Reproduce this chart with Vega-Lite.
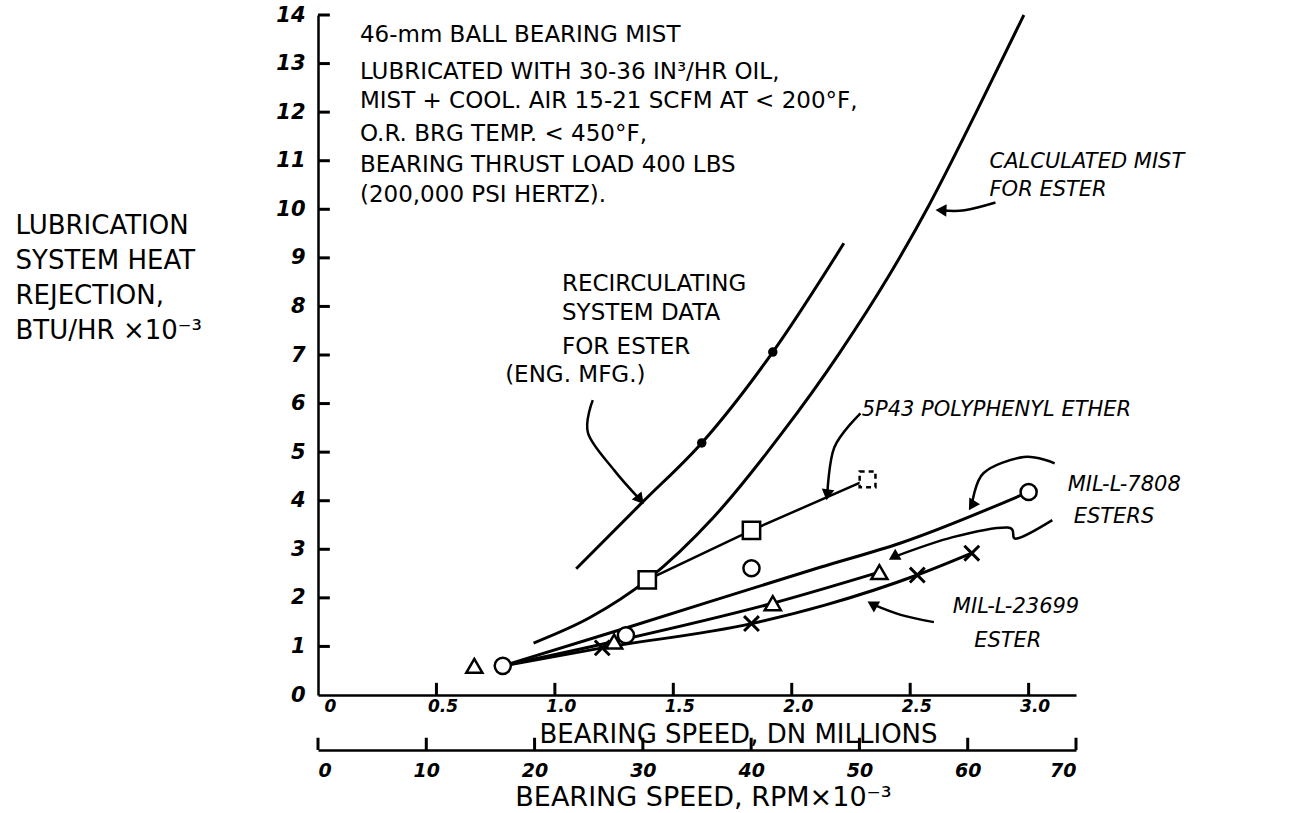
{
  "$schema": "https://vega.github.io/schema/vega-lite/v6.json",
  "width": 758,
  "height": 680,
  "autosize": {"type": "none"},
  "padding": {"left": 318, "top": 15, "right": 218, "bottom": 118},
  "background": "white",
  "config": {"view": {"stroke": null}, "font": "DejaVu Sans"},
  "datasets": {
    "curves": [
      {"s": "recirc", "x": 1.09, "y": 2.6}, {"s": "recirc", "x": 1.37, "y": 3.97}, {"s": "recirc", "x": 1.62, "y": 5.19}, {"s": "recirc", "x": 1.92, "y": 7.06}, {"s": "recirc", "x": 2.22, "y": 9.3},
      {"s": "calc", "x": 0.91, "y": 1.07}, {"s": "calc", "x": 1.15, "y": 1.6}, {"s": "calc", "x": 1.39, "y": 2.37}, {"s": "calc", "x": 1.67, "y": 3.66}, {"s": "calc", "x": 1.96, "y": 5.4}, {"s": "calc", "x": 2.2, "y": 7.03}, {"s": "calc", "x": 2.41, "y": 8.63}, {"s": "calc", "x": 2.58, "y": 10.09}, {"s": "calc", "x": 2.78, "y": 12.01}, {"s": "calc", "x": 2.98, "y": 14.0},
      {"s": "c7808", "x": 0.78, "y": 0.6}, {"s": "c7808", "x": 1.3, "y": 1.38}, {"s": "c7808", "x": 2.12, "y": 2.63}, {"s": "c7808", "x": 2.46, "y": 3.13}, {"s": "c7808", "x": 3.0, "y": 4.18},
      {"s": "t7808", "x": 0.78, "y": 0.6}, {"s": "t7808", "x": 1.25, "y": 1.1}, {"s": "t7808", "x": 1.92, "y": 1.89}, {"s": "t7808", "x": 2.37, "y": 2.53},
      {"s": "x23699", "x": 0.78, "y": 0.6}, {"s": "x23699", "x": 1.2, "y": 0.97}, {"s": "x23699", "x": 1.83, "y": 1.47}, {"s": "x23699", "x": 2.14, "y": 1.85}, {"s": "x23699", "x": 2.53, "y": 2.47}, {"s": "x23699", "x": 2.76, "y": 2.92}
    ],
    "poly": [
      {"s": "poly", "x": 1.39, "y": 2.37}, {"s": "poly", "x": 1.83, "y": 3.39}, {"s": "poly", "x": 2.32, "y": 4.44}
    ],
    "points": [
      {"m": "dot", "x": 1.62, "y": 5.19}, {"m": "dot", "x": 1.92, "y": 7.06},
      {"m": "circle", "x": 0.78, "y": 0.6}, {"m": "circle", "x": 1.3, "y": 1.23}, {"m": "circle", "x": 1.83, "y": 2.61}, {"m": "circle", "x": 3.0, "y": 4.18},
      {"m": "square", "x": 1.39, "y": 2.37}, {"m": "square", "x": 1.83, "y": 3.39},
      {"m": "squareDash", "x": 2.32, "y": 4.44},
      {"m": "triangle", "x": 0.66, "y": 0.6}, {"m": "triangle", "x": 1.25, "y": 1.1}, {"m": "triangle", "x": 1.92, "y": 1.89}, {"m": "triangle", "x": 2.37, "y": 2.53},
      {"m": "x", "x": 1.2, "y": 0.97}, {"m": "x", "x": 1.83, "y": 1.47}, {"m": "x", "x": 2.53, "y": 2.47}, {"m": "x", "x": 2.76, "y": 2.92}
    ],
    "arrows": [
      {"a": "recirc", "i": 1, "x": 1.16, "y": 6.07}, {"a": "recirc", "i": 2, "x": 1.14, "y": 5.39}, {"a": "recirc", "i": 3, "x": 1.25, "y": 4.63}, {"a": "recirc", "i": 4, "x": 1.36, "y": 4.02},
      {"a": "poly", "i": 1, "x": 2.29, "y": 5.8}, {"a": "poly", "i": 2, "x": 2.18, "y": 5.1}, {"a": "poly", "i": 3, "x": 2.15, "y": 4.12},
      {"a": "calc", "i": 1, "x": 2.86, "y": 10.14}, {"a": "calc", "i": 2, "x": 2.73, "y": 9.98}, {"a": "calc", "i": 3, "x": 2.63, "y": 9.98},
      {"a": "m7808a", "i": 1, "x": 3.11, "y": 4.77}, {"a": "m7808a", "i": 2, "x": 2.98, "y": 4.9}, {"a": "m7808a", "i": 3, "x": 2.81, "y": 4.57}, {"a": "m7808a", "i": 4, "x": 2.76, "y": 3.9},
      {"a": "m7808b", "i": 1, "x": 3.1, "y": 3.6}, {"a": "m7808b", "i": 2, "x": 2.95, "y": 3.22}, {"a": "m7808b", "i": 3, "x": 2.91, "y": 3.45}, {"a": "m7808b", "i": 4, "x": 2.68, "y": 3.25}, {"a": "m7808b", "i": 5, "x": 2.43, "y": 2.84},
      {"a": "m23699", "i": 1, "x": 2.6, "y": 1.5}, {"a": "m23699", "i": 2, "x": 2.46, "y": 1.65}, {"a": "m23699", "i": 3, "x": 2.34, "y": 1.87}
    ],
    "heads": [
      {"a": "recirc", "x": 1.36, "y": 4.02},
      {"a": "poly", "x": 2.15, "y": 4.12},
      {"a": "calc", "x": 2.63, "y": 9.98},
      {"a": "m7808a", "x": 2.76, "y": 3.9},
      {"a": "m7808b", "x": 2.43, "y": 2.84},
      {"a": "m23699", "x": 2.34, "y": 1.87}
    ],
    "xticks": [
      {"x": 0.5, "y": 0, "y2": 0.25}, {"x": 1.0, "y": 0, "y2": 0.25}, {"x": 1.5, "y": 0, "y2": 0.25}, {"x": 2.0, "y": 0, "y2": 0.25}, {"x": 2.5, "y": 0, "y2": 0.25}, {"x": 3.0, "y": 0, "y2": 0.25}
    ],
    "yticks": [
      {"x": 0, "x2": 0.05, "y": 1}, {"x": 0, "x2": 0.05, "y": 2}, {"x": 0, "x2": 0.05, "y": 3}, {"x": 0, "x2": 0.05, "y": 4}, {"x": 0, "x2": 0.05, "y": 5},
      {"x": 0, "x2": 0.05, "y": 6}, {"x": 0, "x2": 0.05, "y": 7}, {"x": 0, "x2": 0.05, "y": 8}, {"x": 0, "x2": 0.05, "y": 9}, {"x": 0, "x2": 0.05, "y": 10},
      {"x": 0, "x2": 0.05, "y": 11}, {"x": 0, "x2": 0.05, "y": 12}, {"x": 0, "x2": 0.05, "y": 13}, {"x": 0, "x2": 0.05, "y": 14}
    ],
    "rticks": [
      {"rpm": 0, "y": -1.132, "y2": -0.88}, {"rpm": 10, "y": -1.132, "y2": -0.88}, {"rpm": 20, "y": -1.132, "y2": -0.88}, {"rpm": 30, "y": -1.132, "y2": -0.88},
      {"rpm": 40, "y": -1.132, "y2": -0.88}, {"rpm": 50, "y": -1.132, "y2": -0.88}, {"rpm": 60, "y": -1.132, "y2": -0.88}, {"rpm": 70, "y": -1.132, "y2": -0.88}
    ],
    "notes": [
      {"g": "block", "x": 0.177, "y": 13.58, "t": "46-mm BALL BEARING MIST"},
      {"g": "block", "x": 0.177, "y": 12.82, "t": "LUBRICATED WITH 30-36 IN³/HR OIL,"},
      {"g": "block", "x": 0.177, "y": 12.22, "t": "MIST + COOL. AIR 15-21 SCFM AT < 200°F,"},
      {"g": "block", "x": 0.177, "y": 11.54, "t": "O.R. BRG TEMP. < 450°F,"},
      {"g": "block", "x": 0.177, "y": 10.91, "t": "BEARING THRUST LOAD 400 LBS"},
      {"g": "block", "x": 0.177, "y": 10.29, "t": "(200,000 PSI HERTZ)."},
      {"g": "side", "x": 2.835, "y": 10.97, "t": "CALCULATED MIST"},
      {"g": "side", "x": 2.835, "y": 10.39, "t": "FOR ESTER"},
      {"g": "recirc", "x": 1.03, "y": 8.46, "t": "RECIRCULATING"},
      {"g": "recirc", "x": 1.03, "y": 7.86, "t": "SYSTEM DATA"},
      {"g": "recirc", "x": 1.03, "y": 7.16, "t": "FOR ESTER"},
      {"g": "recirc", "x": 0.79, "y": 6.58, "t": "(ENG. MFG.)"},
      {"g": "side", "x": 2.295, "y": 5.86, "t": "5P43 POLYPHENYL ETHER"},
      {"g": "side", "x": 3.165, "y": 4.32, "t": "MIL-L-7808"},
      {"g": "side", "x": 3.19, "y": 3.66, "t": "ESTERS"},
      {"g": "side", "x": 2.68, "y": 1.81, "t": "MIL-L-23699"},
      {"g": "side", "x": 2.77, "y": 1.11, "t": "ESTER"}
    ]
  },
  "resolve": {"scale": {"x": "independent", "y": "independent"}, "axis": {"x": "independent", "y": "independent"}},
  "layer": [
    {
      "encoding": {
        "x": {"field": "x", "type": "quantitative", "scale": {"domain": [0, 3.2]},
          "axis": {"values": [0, 0.5, 1, 1.5, 2, 2.5, 3], "labelExpr": "datum.value == 0 ? '0' : format(datum.value, '.1f')",
            "title": "BEARING SPEED, DN MILLIONS", "titleX": 420, "titleY": 39, "titleAlign": "center", "titleBaseline": "middle",
            "titleFontSize": 26, "titleFontWeight": "normal", "titleColor": "black",
            "grid": false, "domainColor": "black", "domainWidth": 2.5, "ticks": false,
            "labelPadding": 3, "labelFontSize": 17, "labelFontStyle": "italic", "labelFontWeight": "bold", "labelColor": "black", "labelOffset": 6, "labelBaseline": "top"}},
        "y": {"field": "y", "type": "quantitative", "scale": {"domain": [0, 14]},
          "axis": {"values": [0, 1, 2, 3, 4, 5, 6, 7, 8, 9, 10, 11, 12, 13, 14],
            "title": ["LUBRICATION", "SYSTEM HEAT", "REJECTION,", "BTU/HR ×10⁻³"], "titleAngle": 0, "titleAlign": "left", "titleBaseline": "top",
            "titleX": -303, "titleY": 197, "titleLineHeight": 35, "titleFontSize": 26, "titleFontWeight": "normal", "titleColor": "black",
            "grid": false, "domainColor": "black", "domainWidth": 2.5, "ticks": false,
            "labelPadding": 13, "labelFontSize": 21, "labelFontStyle": "italic", "labelFontWeight": "bold", "labelColor": "black"}}
      },
      "layer": [
        {"data": {"name": "xticks"}, "mark": {"type": "rule", "color": "black", "strokeWidth": 3},
          "encoding": {"y2": {"field": "y2"}}},
        {"data": {"name": "yticks"}, "mark": {"type": "rule", "color": "black", "strokeWidth": 3},
          "encoding": {"x2": {"field": "x2"}}},
        {"data": {"name": "curves"}, "mark": {"type": "line", "color": "black", "strokeWidth": 3, "interpolate": "monotone"},
          "encoding": {"detail": {"field": "s"}}},
        {"data": {"name": "poly"}, "mark": {"type": "line", "color": "black", "strokeWidth": 2.5},
          "encoding": {}},
        {"data": {"name": "arrows"}, "mark": {"type": "line", "color": "black", "strokeWidth": 2.5, "interpolate": "cardinal"},
          "encoding": {"detail": {"field": "a"}, "order": {"field": "i", "type": "quantitative"}}},
        {"data": {"name": "heads"}, "transform": [{"filter": "datum.a == 'recirc'"}], "mark": {"type": "point", "shape": "triangle-up", "filled": true, "color": "black", "size": 160, "angle": 140, "opacity": 1}},
        {"data": {"name": "heads"}, "transform": [{"filter": "datum.a == 'poly'"}], "mark": {"type": "point", "shape": "triangle-up", "filled": true, "color": "black", "size": 160, "angle": 188, "opacity": 1}},
        {"data": {"name": "heads"}, "transform": [{"filter": "datum.a == 'calc'"}], "mark": {"type": "point", "shape": "triangle-up", "filled": true, "color": "black", "size": 160, "angle": 272, "opacity": 1}},
        {"data": {"name": "heads"}, "transform": [{"filter": "datum.a == 'm7808a'"}], "mark": {"type": "point", "shape": "triangle-up", "filled": true, "color": "black", "size": 160, "angle": 212, "opacity": 1}},
        {"data": {"name": "heads"}, "transform": [{"filter": "datum.a == 'm7808b'"}], "mark": {"type": "point", "shape": "triangle-up", "filled": true, "color": "black", "size": 160, "angle": 240, "opacity": 1}},
        {"data": {"name": "heads"}, "transform": [{"filter": "datum.a == 'm23699'"}], "mark": {"type": "point", "shape": "triangle-up", "filled": true, "color": "black", "size": 160, "angle": 300, "opacity": 1}},
        {"data": {"name": "points"}, "transform": [{"filter": "datum.m == 'dot'"}], "mark": {"type": "point", "shape": "circle", "filled": true, "color": "black", "size": 90, "opacity": 1}},
        {"data": {"name": "points"}, "transform": [{"filter": "datum.m == 'circle'"}], "mark": {"type": "point", "shape": "circle", "filled": true, "fill": "white", "stroke": "black", "strokeWidth": 2.5, "size": 260, "opacity": 1}},
        {"data": {"name": "points"}, "transform": [{"filter": "datum.m == 'square'"}], "mark": {"type": "point", "shape": "square", "filled": true, "fill": "white", "stroke": "black", "strokeWidth": 2.5, "size": 300, "opacity": 1}},
        {"data": {"name": "points"}, "transform": [{"filter": "datum.m == 'squareDash'"}], "mark": {"type": "point", "shape": "square", "filled": true, "fill": "white", "stroke": "black", "strokeWidth": 2.5, "strokeDash": [5, 4], "size": 250, "opacity": 1}},
        {"data": {"name": "points"}, "transform": [{"filter": "datum.m == 'triangle'"}], "mark": {"type": "point", "shape": "triangle-up", "filled": true, "fill": "white", "stroke": "black", "strokeWidth": 2.5, "size": 260, "opacity": 1}},
        {"data": {"name": "points"}, "transform": [{"filter": "datum.m == 'x'"}], "mark": {"type": "point", "shape": "M-1,-1L1,1M-1,1L1,-1", "filled": false, "stroke": "black", "strokeWidth": 3, "size": 220, "opacity": 1}},
        {"data": {"name": "notes"}, "transform": [{"filter": "datum.g == 'block'"}], "mark": {"type": "text", "align": "left", "baseline": "middle", "fontSize": 23, "color": "black", "font": "DejaVu Sans"},
          "encoding": {"text": {"field": "t"}}},
        {"data": {"name": "notes"}, "transform": [{"filter": "datum.g == 'recirc'"}], "mark": {"type": "text", "align": "left", "baseline": "middle", "fontSize": 23, "color": "black", "font": "DejaVu Sans"},
          "encoding": {"text": {"field": "t"}}},
        {"data": {"name": "notes"}, "transform": [{"filter": "datum.g == 'side'"}], "mark": {"type": "text", "align": "left", "baseline": "middle", "fontSize": 21, "fontStyle": "italic", "color": "black", "font": "DejaVu Sans"},
          "encoding": {"text": {"field": "t"}}}
      ]
    },
    {
      "data": {"name": "rticks"},
      "mark": {"type": "rule", "color": "black", "strokeWidth": 3, "clip": false},
      "encoding": {
        "x": {"field": "rpm", "type": "quantitative", "scale": {"domain": [0, 70]},
          "axis": {"orient": "bottom", "offset": 55, "values": [0, 10, 20, 30, 40, 50, 60, 70],
            "title": "BEARING SPEED, RPM×10⁻³", "titleX": 385, "titleY": 47, "titleAlign": "center", "titleBaseline": "middle",
            "titleFontSize": 27, "titleFontWeight": "normal", "titleColor": "black",
            "grid": false, "domainColor": "black", "domainWidth": 2.5, "ticks": false,
            "labelPadding": 11, "labelFontSize": 19, "labelFontStyle": "italic", "labelFontWeight": "bold", "labelColor": "black", "labelBaseline": "top"}},
        "y": {"field": "y", "type": "quantitative", "scale": {"domain": [0, 14]}, "axis": null},
        "y2": {"field": "y2"}
      }
    }
  ]
}
